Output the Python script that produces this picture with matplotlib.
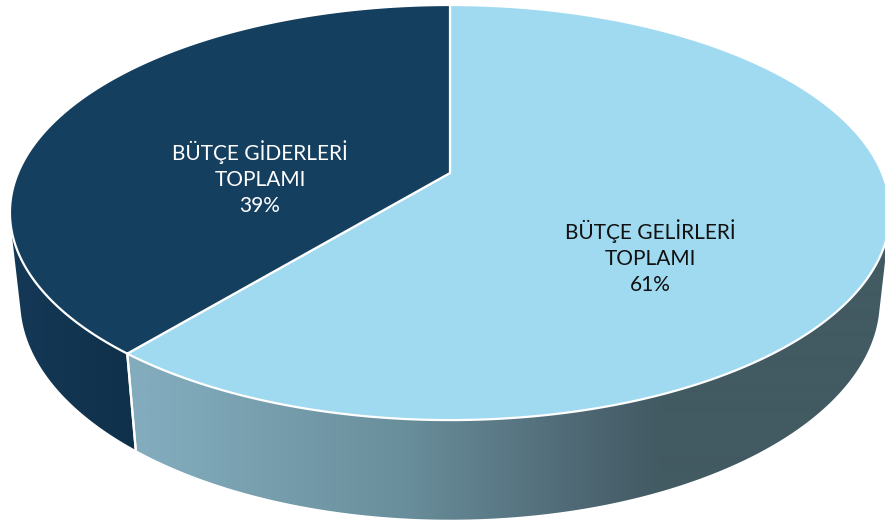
import numpy as np
import matplotlib
matplotlib.use("Agg")
import matplotlib.pyplot as plt
from matplotlib.patches import Polygon

# Data
labels = ["BÜTÇE GELİRLERİ\nTOPLAMI", "BÜTÇE GİDERLERİ\nTOPLAMI"]
values = [61, 39]
top_colors = ["#A0DAF0", "#143F5F"]
text_colors = ["#111111", "white"]
# side gradients (x position in px, colour)
side_stops = [
    [(150, "#82ACBD"), (400, "#6A8F9C"), (600, "#4B6470"), (660, "#425A62"), (885, "#425A62")],
    [(0, "#143957"), (160, "#0F2F48")],
]

# 3D view (pixels)
W, H = 885, 529
R = 432
s = 0.463
c = np.sqrt(1 - s**2)
D = 5.25 * R * c
depth = 100
cx, cy = 450, 173


def proj(theta, z=0.0):
    t = np.radians(theta)
    x = R * np.cos(t)
    y = R * np.sin(t)
    d = D + y * c - z * s
    return cx + x * D / d, cy - (y * s + z * c) * D / d


def hex2rgb(h):
    return np.array([int(h[i:i + 2], 16) for i in (1, 3, 5)]) / 255.0


fig = plt.figure(figsize=(W / 100, H / 100), dpi=100)
ax = fig.add_axes([0, 0, 1, 1])
ax.set_xlim(0, W)
ax.set_ylim(H, 0)
ax.axis("off")

# slice angles: first slice starts at 12 o'clock, goes clockwise
total = sum(values)
starts, ends = [], []
a = 90.0
for v in values:
    ends.append(a)
    a -= 360.0 * v / total
    starts.append(a)
# slice i covers [starts[i], ends[i]]; normalise to positive range
starts = [st % 360 for st in starts]
ends = [st + 360.0 * v / total for st, v in zip(starts, values)]

# visible side range
lim = np.degrees(np.arcsin(R / (D * c)))
vis_a, vis_b = 180 + lim, 360 - lim

xs = np.arange(W) + 0.5
for i in range(len(values)):
    lo, hi = starts[i], ends[i]
    # collect visible part (handle wrap)
    for off in (0, -360, 360):
        a0 = max(lo + off, vis_a)
        a1 = min(hi + off, vis_b)
        if a1 <= a0:
            continue
        th = np.linspace(a0, a1, 200)
        tx, ty = proj(th, 0)
        bx, by = proj(th[::-1], -depth)
        pts = np.column_stack([np.r_[tx, bx], np.r_[ty, by]])
        poly = Polygon(pts, closed=True, facecolor="none", edgecolor="none")
        ax.add_patch(poly)
        stops = side_stops[i]
        px = [p for p, _ in stops]
        cols = np.array([hex2rgb(col) for _, col in stops])
        grad = np.stack([np.interp(xs, px, cols[:, k]) for k in range(3)], axis=-1)
        img = ax.imshow(grad[None, :, :], extent=(0, W, H, 0), aspect="auto",
                        zorder=1, interpolation="bilinear")
        img.set_clip_path(poly)
        # white divider on the side
        for ang in (a0, a1):
            if vis_a < ang < vis_b:
                x0, y0 = proj(ang, 0)
                x1, y1 = proj(ang, -depth)
                ax.plot([x0, x1], [y0, y1], color="white", lw=1.6, zorder=3)

# top faces
for i in range(len(values)):
    th = np.linspace(starts[i], ends[i], 300)
    tx, ty = proj(th, 0)
    pts = np.column_stack([np.r_[cx, tx], np.r_[cy, ty]])
    ax.add_patch(Polygon(pts, closed=True, facecolor=top_colors[i],
                         edgecolor="white", lw=1.6, zorder=2))

# labels
label_pos = [(650, 257), (260, 178)]
for i in range(len(values)):
    pct = round(100 * values[i] / total)
    ax.text(label_pos[i][0], label_pos[i][1], f"{labels[i]}\n{pct}%",
            ha="center", va="center", color=text_colors[i], fontsize=15,
            family="Lato", linespacing=1.35, zorder=5)

fig.savefig("out.png", dpi=100, facecolor="white")
